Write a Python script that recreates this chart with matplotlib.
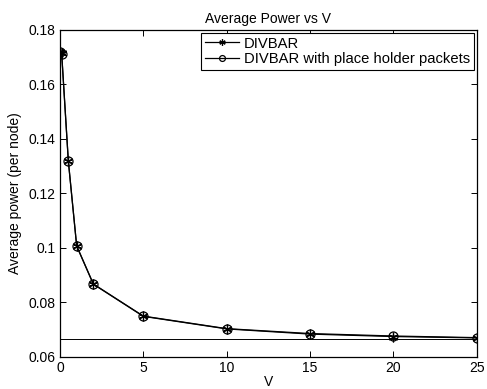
import matplotlib.pyplot as plt

V = [0, 0.1, 0.5, 1, 2, 5, 10, 15, 20, 25]
power_divbar = [0.172, 0.1715, 0.132, 0.1007, 0.0867, 0.0749, 0.0703, 0.0684, 0.0675, 0.0670]
power_placeholder = [0.1718, 0.1712, 0.1318, 0.1008, 0.0868, 0.0750, 0.0704, 0.0686, 0.0677, 0.0671]
bound = 0.0666

plt.rcParams['font.family'] = ['Liberation Sans', 'DejaVu Sans']
plt.rcParams['font.size'] = 10

fig = plt.figure(figsize=(4.87, 3.89), dpi=100)
ax = fig.add_axes([0.1232, 0.0823, 0.856, 0.8406])

ax.plot(V, power_divbar, color='black', lw=0.9, marker=(6, 2, 0), ms=7, mew=0.9,
        label='DIVBAR')
ax.plot(V, power_placeholder, color='black', lw=0.9, marker='o', ms=6.5, mfc='none',
        mew=0.9, label='DIVBAR with place holder packets')
ax.axhline(bound, color='black', lw=0.7)

ax.set_xlim(0, 25)
ax.set_ylim(0.06, 0.18)
ax.set_xticks([0, 5, 10, 15, 20, 25])
ax.set_yticks([0.06, 0.08, 0.1, 0.12, 0.14, 0.16, 0.18])
ax.set_yticklabels(['0.06', '0.08', '0.1', '0.12', '0.14', '0.16', '0.18'])
ax.tick_params(direction='in', top=True, right=True, length=4, width=0.7, labelsize=10, pad=3)
for s in ax.spines.values():
    s.set_linewidth(0.9)

ax.set_title('Average Power vs V', fontsize=10, pad=5)
ax.set_xlabel('V', labelpad=0)
ax.set_ylabel('Average power (per node)', labelpad=5)

leg = ax.legend(loc='upper right', fontsize=10.6, fancybox=False, framealpha=1,
                edgecolor='black', borderpad=0.25, handlelength=2.3,
                labelspacing=0.1, borderaxespad=0.2, handletextpad=0.35,
                markerscale=0.65)
leg.get_frame().set_linewidth(0.8)

plt.savefig('out.png', dpi=100)
